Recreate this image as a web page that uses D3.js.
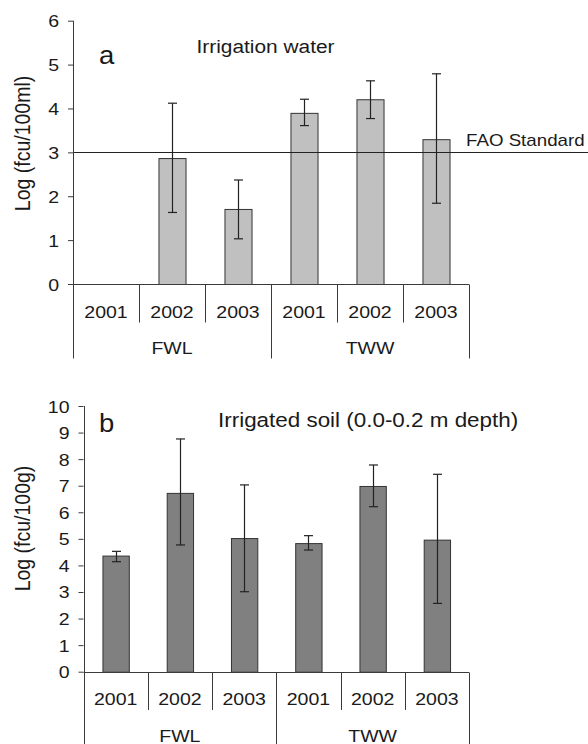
<!DOCTYPE html>
<html>
<head>
<meta charset="utf-8">
<script src="https://cdn.jsdelivr.net/npm/d3@7"></script>
<style>
  body { margin: 0; background: #fff; }
  svg { display: block; font-family: "Liberation Sans", Arial, sans-serif; }
  text { fill: #1a1a1a; }
</style>
</head>
<body>
<div id="chart"></div>
<script>
// Categories.
var years = ['2001', '2002', '2003'];
var groups = ['FWL', 'TWW'];
var categories = ['FWL-2001', 'FWL-2002', 'FWL-2003', 'TWW-2001', 'TWW-2002', 'TWW-2003'];

// Panel a: irrigation water, log (fcu/100ml). No data for FWL 2001.
var waterMean = [null, 2.87, 1.71, 3.90, 4.21, 3.30];
var waterLow  = [null, 1.63, 1.03, 3.61, 3.77, 1.84];
var waterHigh = [null, 4.12, 2.37, 4.21, 4.63, 4.79];
var waterTicks = [0, 1, 2, 3, 4, 5, 6];
var faoStandard = 3;

// Panel b: irrigated soil, log (fcu/100g).
var soilMean = [4.37, 6.73, 5.03, 4.84, 6.99, 4.97];
var soilLow  = [4.14, 4.77, 3.01, 4.58, 6.21, 2.57];
var soilHigh = [4.53, 8.76, 7.03, 5.12, 7.78, 7.43];
var soilTicks = [0, 1, 2, 3, 4, 5, 6, 7, 8, 9, 10];

var W = 588, H = 744;
var lineColor = '#3a3a3a';

var svg = d3.select('#chart').append('svg')
  .attr('width', W)
  .attr('height', H);

// Text in the picture is a bit wider than tall, so stretch it sideways.
function label(parent, str, x, y, size, anchor, sx) {
  return parent.append('text')
    .attr('transform', 'translate(' + x + ',' + y + ') scale(' + sx + ',1)')
    .attr('text-anchor', anchor)
    .style('font-size', size + 'px')
    .text(str);
}

function panel(opts) {
  var g = svg.append('g');

  var x = d3.scaleBand()
    .domain(categories)
    .range([opts.left, opts.right])
    .paddingInner(0.59)
    .paddingOuter(0.295);

  var cell = d3.scaleBand()
    .domain(categories)
    .range([opts.left, opts.right]);

  var groupScale = d3.scaleBand()
    .domain(groups)
    .range([opts.left, opts.right]);

  var y = d3.scaleLinear()
    .domain([0, opts.max])
    .range([opts.bottom, opts.top]);

  var rows = categories.map(function(c, i) {
    return { cat: c, mean: opts.mean[i], low: opts.low[i], high: opts.high[i] };
  }).filter(function(d) { return d.mean != null; });

  // Y axis.
  var yAxis = d3.axisLeft(y)
    .tickValues(opts.ticks)
    .tickFormat(d3.format('d'))
    .tickSizeInner(5)
    .tickSizeOuter(0)
    .tickPadding(10);

  var axisG = g.append('g')
    .attr('transform', 'translate(' + opts.left + ',0)')
    .call(yAxis);
  axisG.select('.domain').remove();
  axisG.selectAll('.tick line').attr('stroke', lineColor);
  axisG.selectAll('.tick text')
    .attr('x', null)
    .attr('dy', null)
    .attr('transform', 'translate(-14,6) scale(1.22,1)')
    .style('font-size', '16px')
    .style('font-family', '"Liberation Sans", Arial, sans-serif')
    .attr('fill', '#1a1a1a');

  // Bars.
  g.append('g').selectAll('rect')
    .data(rows)
    .enter().append('rect')
    .attr('x', function(d) { return x(d.cat) + 0.5; })
    .attr('y', function(d) { return y(d.mean) + 0.5; })
    .attr('width', x.bandwidth())
    .attr('height', function(d) { return y(0) - y(d.mean); })
    .attr('fill', opts.fill)
    .attr('stroke', '#333')
    .attr('stroke-width', 1);

  // Reference line (panel a only).
  if (opts.refLine != null) {
    g.append('line')
      .attr('x1', opts.left).attr('x2', W)
      .attr('y1', Math.round(y(opts.refLine)) + 0.5)
      .attr('y2', Math.round(y(opts.refLine)) + 0.5)
      .attr('stroke', '#222');
    label(g, opts.refLabel, 466, 145.5, 16, 'start', 1.17);
  }

  // Error bars.
  var err = g.append('g').selectAll('g')
    .data(rows)
    .enter().append('g')
    .attr('stroke', '#222')
    .attr('stroke-width', 1.2);
  var cx = function(d) { return Math.round(x(d.cat) + x.bandwidth() / 2) + 0.5; };
  err.append('line')
    .attr('x1', cx).attr('x2', cx)
    .attr('y1', function(d) { return y(d.high); })
    .attr('y2', function(d) { return y(d.low); });
  err.append('line')
    .attr('x1', function(d) { return cx(d) - 4.5; })
    .attr('x2', function(d) { return cx(d) + 4.5; })
    .attr('y1', function(d) { return y(d.high); })
    .attr('y2', function(d) { return y(d.high); });
  err.append('line')
    .attr('x1', function(d) { return cx(d) - 4.5; })
    .attr('x2', function(d) { return cx(d) + 4.5; })
    .attr('y1', function(d) { return y(d.low); })
    .attr('y2', function(d) { return y(d.low); });

  // Axis lines and category table.
  var lines = g.append('g').attr('stroke', lineColor).attr('stroke-width', 1);
  var b = Math.round(y(0)) + 0.5;
  lines.append('line')
    .attr('x1', opts.left).attr('x2', opts.right)
    .attr('y1', b).attr('y2', b);
  lines.append('line')
    .attr('x1', Math.round(opts.left) + 0.5).attr('x2', Math.round(opts.left) + 0.5)
    .attr('y1', y(opts.max)).attr('y2', opts.row2);

  // Year dividers (short) and group dividers (long).
  categories.forEach(function(c, i) {
    var xx = Math.round(cell(c) + cell.bandwidth()) + 0.5;
    var isGroupEnd = (i % years.length) == years.length - 1;
    lines.append('line')
      .attr('x1', xx).attr('x2', xx)
      .attr('y1', b)
      .attr('y2', isGroupEnd ? opts.row2 : opts.row1);
  });

  categories.forEach(function(c, i) {
    label(g, years[i % years.length], cell(c) + cell.bandwidth() / 2, opts.yearBase, 16, 'middle', 1.22);
  });
  groups.forEach(function(gr) {
    label(g, gr, groupScale(gr) + groupScale.bandwidth() / 2, opts.groupBase, 16, 'middle', 1.22);
  });

  // Panel letter, title, y label.
  label(g, opts.letter, 99, opts.letterBase, 25, 'start', 1.1);
  label(g, opts.title, opts.titleX, opts.titleBase, opts.titleSize, 'start', opts.titleSx);

  g.append('text')
    .attr('transform', 'translate(30,' + opts.yLabelMid + ') rotate(-90) scale(1,1.1)')
    .attr('text-anchor', 'middle')
    .style('font-size', '19.5px')
    .text(opts.yLabel);
}

panel({
  left: 73, right: 469, top: 20.7, bottom: 284, max: 6,
  ticks: waterTicks,
  mean: waterMean, low: waterLow, high: waterHigh,
  fill: '#c0c0c0',
  refLine: faoStandard, refLabel: 'FAO Standard',
  row1: 322.5, row2: 358.5, yearBase: 317.5, groupBase: 354,
  letter: 'a', letterBase: 63.5,
  title: 'Irrigation water', titleX: 196.5, titleBase: 53, titleSize: 18, titleSx: 1.16,
  yLabel: 'Log (fcu/100ml)', yLabelMid: 143.5
});

panel({
  left: 83.5, right: 469, top: 406, bottom: 671.7, max: 10,
  ticks: soilTicks,
  mean: soilMean, low: soilLow, high: soilHigh,
  fill: '#808080',
  refLine: null,
  row1: 710, row2: 750, yearBase: 705, groupBase: 741.5,
  letter: 'b', letterBase: 431.5,
  title: 'Irrigated soil (0.0-0.2 m depth)', titleX: 218, titleBase: 426.7, titleSize: 19.5, titleSx: 1.15,
  yLabel: 'Log (fcu/100g)', yLabelMid: 528.5
});
</script>
</body>
</html>
